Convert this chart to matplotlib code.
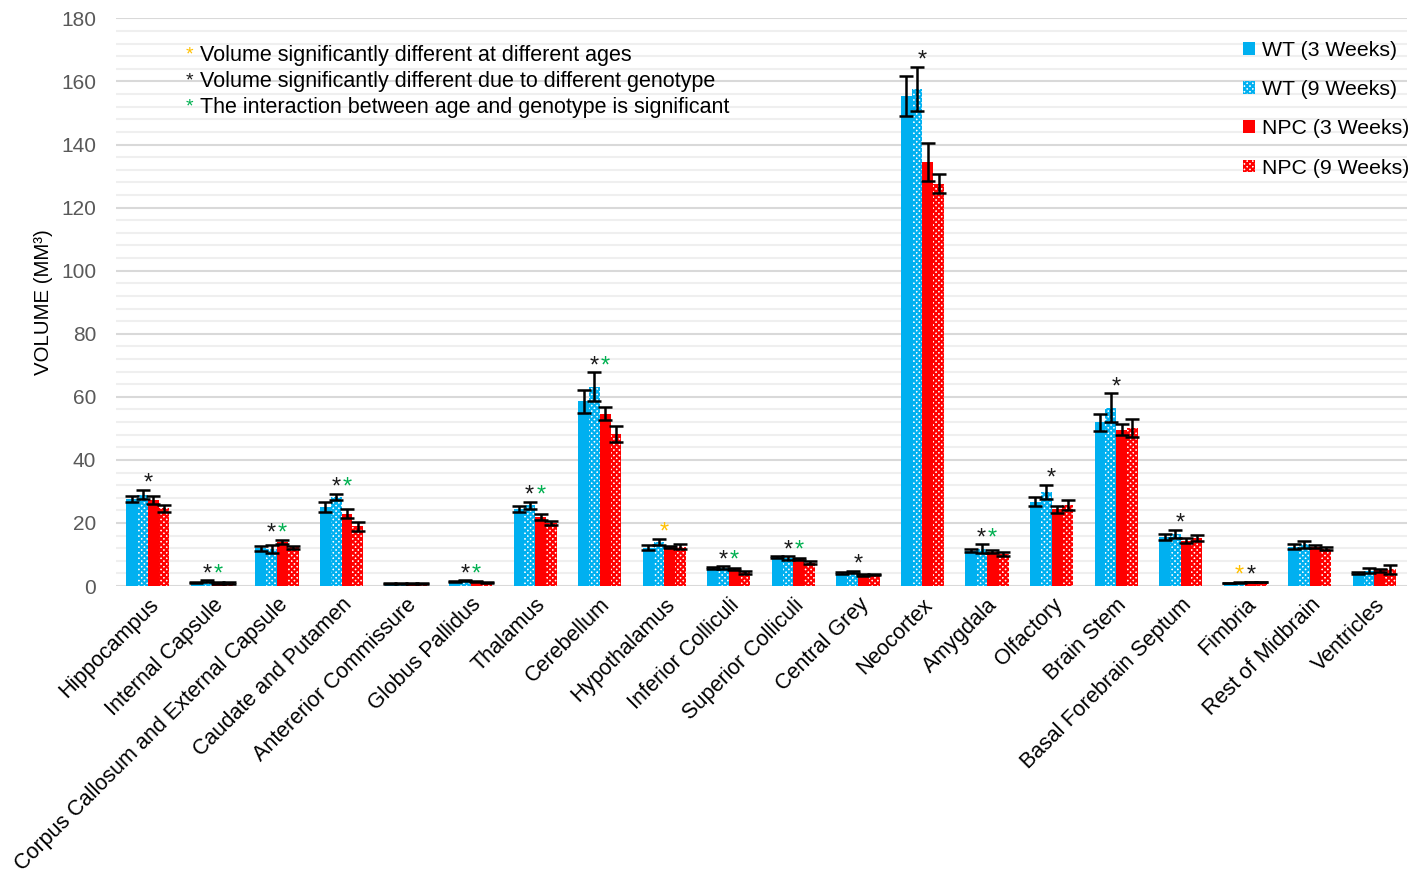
import numpy as np
import matplotlib
matplotlib.use("Agg")
import matplotlib.pyplot as plt
from matplotlib.patches import Patch

plt.rcParams['font.family'] = ['Liberation Sans', 'DejaVu Sans']
plt.rcParams['hatch.linewidth'] = 1.6

regions = ["Hippocampus", "Internal Capsule", "Corpus Callosum and External Capsule",
           "Caudate and Putamen", "Antererior Commissure", "Globus Pallidus", "Thalamus",
           "Cerebellum", "Hypothalamus", "Inferior Colliculi", "Superior Colliculi",
           "Central Grey", "Neocortex", "Amygdala", "Olfactory", "Brain Stem",
           "Basal Forebrain Septum", "Fimbria", "Rest of Midbrain", "Ventricles"]

wt3 = [27.5, 1.2, 12.0, 25.1, 0.8, 1.5, 24.5, 58.6, 12.2, 5.6, 9.2, 4.0, 155.4, 11.2, 26.8, 51.9, 15.6, 1.0, 12.5, 4.2]
wt9 = [29.0, 1.5, 11.8, 28.2, 0.8, 1.7, 25.6, 63.2, 14.0, 5.8, 8.8, 4.5, 157.7, 11.9, 29.9, 56.6, 16.5, 1.2, 13.2, 4.9]
npc3 = [27.3, 1.0, 14.0, 23.0, 0.9, 1.5, 22.0, 54.7, 12.4, 5.3, 8.5, 3.5, 134.4, 10.9, 24.3, 49.6, 14.4, 1.3, 12.5, 5.0]
npc9 = [24.6, 1.0, 12.3, 18.9, 0.8, 1.2, 20.0, 48.2, 12.4, 4.3, 7.4, 3.6, 127.6, 10.1, 25.7, 50.2, 15.3, 1.3, 11.9, 5.3]

wt3_err = [1.0, 0.2, 0.8, 1.6, 0.1, 0.2, 1.0, 3.7, 0.7, 0.3, 0.3, 0.3, 6.4, 0.5, 1.3, 2.8, 1.0, 0.1, 0.8, 0.4]
wt9_err = [1.5, 0.3, 1.3, 1.0, 0.1, 0.2, 1.2, 4.6, 1.0, 0.4, 0.7, 0.4, 7.0, 1.3, 2.2, 4.5, 1.4, 0.1, 1.1, 0.9]
npc3_err = [1.2, 0.2, 0.6, 1.4, 0.1, 0.2, 1.0, 2.1, 0.4, 0.3, 0.4, 0.2, 6.0, 0.4, 1.0, 1.7, 0.8, 0.1, 0.5, 0.4]
npc9_err = [1.0, 0.2, 0.5, 1.3, 0.1, 0.2, 0.7, 2.5, 0.8, 0.4, 0.4, 0.2, 2.9, 0.6, 1.6, 2.9, 1.0, 0.1, 0.5, 1.5]

# significance marks per region: a = age (yellow), g = genotype (black), i = interaction (green)
stars = ["g", "gi", "gi", "gi", "", "gi", "gi", "gi", "a", "gi", "gi", "g", "g", "gi", "g", "g", "g", "ag", "", ""]

series_names = ["WT (3 Weeks)", "WT (9 Weeks)", "NPC (3 Weeks)", "NPC (9 Weeks)"]
notes = ["Volume significantly different at different ages",
         "Volume significantly different due to different genotype",
         "The interaction between age and genotype is significant"]

BLUE = "#00B0F0"
RED = "#FF0000"
star_col = {"a": "#FFC000", "g": "#1a1a1a", "i": "#00B050"}

fig = plt.figure(figsize=(14.28, 8.76), dpi=100)
ax = fig.add_axes([0.081, 0.331, 0.904, 0.648])

x = np.arange(len(regions))
w = 0.167
data = [(wt3, wt3_err, BLUE, None), (wt9, wt9_err, BLUE, "xxxxxx"),
        (npc3, npc3_err, RED, None), (npc9, npc9_err, RED, "xxxxxx")]
for k, (vals, errs, col, hatch) in enumerate(data):
    xs = x + (k - 1.5) * w
    if hatch:
        ax.bar(xs, vals, w, facecolor="white", edgecolor=col, hatch=hatch, linewidth=0, zorder=2)
    else:
        ax.bar(xs, vals, w, color=col, linewidth=0, zorder=2)
    ax.errorbar(xs, vals, yerr=errs, fmt="none", ecolor="black", elinewidth=1.8,
                capsize=5, capthick=1.8, zorder=3)

tops = np.max(np.array([np.array(wt3) + wt3_err, np.array(wt9) + wt9_err,
                        np.array(npc3) + npc3_err, np.array(npc9) + npc9_err]), axis=0)
for i, s in enumerate(stars):
    n = len(s)
    for j, c in enumerate(s):
        dx = (j - (n - 1) / 2) * 8
        ax.annotate("*", (x[i], tops[i]), xytext=(dx, 0), textcoords="offset points",
                    ha="center", va="baseline", fontsize=17, color=star_col[c], zorder=4)

ax.set_ylim(0, 180)
ax.set_xlim(-0.5, len(regions) - 0.5)
ax.set_yticks(np.arange(0, 181, 20))
ax.set_yticks(np.arange(0, 181, 4), minor=True)
ax.grid(axis="y", which="major", color="#d9d9d9", linewidth=1.5, zorder=0)
ax.grid(axis="y", which="minor", color="#efefef", linewidth=1.5, zorder=0)
ax.set_axisbelow(True)
for sp in ax.spines.values():
    sp.set_visible(False)
ax.tick_params(axis="both", which="both", length=0)
ax.tick_params(axis="y", labelsize=15, labelcolor="#595959", pad=14)
ax.set_xticks(x)
ax.set_xticklabels(regions, rotation=45, ha="right", rotation_mode="anchor", fontsize=15.5)
ax.tick_params(axis="x", pad=6)
ax.set_ylabel("VOLUME (MM\u00b3)", fontsize=14.7, labelpad=6)

for j, (c, t) in enumerate(zip(["a", "g", "i"], notes)):
    yy = 0.937 - j * 0.0297
    fig.text(0.130, yy, "*", color=star_col[c], fontsize=14, va="center", ha="left")
    fig.text(0.140, yy, t, color="black", fontsize=15.5, va="center", ha="left")

handles = [Patch(facecolor=BLUE, linewidth=0),
           Patch(facecolor="white", edgecolor=BLUE, hatch="xxxxxx", linewidth=0),
           Patch(facecolor=RED, linewidth=0),
           Patch(facecolor="white", edgecolor=RED, hatch="xxxxxx", linewidth=0)]
fig.legend(handles, series_names, loc="upper right", bbox_to_anchor=(1.0, 0.975),
           frameon=False, fontsize=15.3, handlelength=0.55, handleheight=0.55,
           handletextpad=0.3, labelspacing=0.95)

fig.savefig("out.png", dpi=100)
